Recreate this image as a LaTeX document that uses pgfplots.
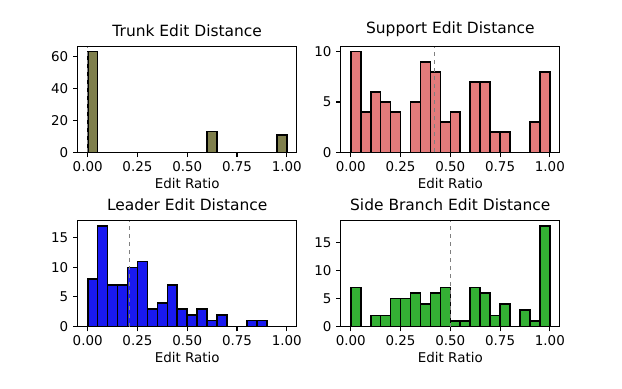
\documentclass[border=0pt]{standalone}
\usepackage{fontspec}
\setmainfont{DejaVu Sans}
\usepackage{pgfplots}
\pgfplotsset{compat=1.18}

\definecolor{trunkc}{HTML}{7F7F4C}
\definecolor{suppc}{HTML}{E37B7B}
\definecolor{leadc}{HTML}{1919F0}
\definecolor{sidec}{HTML}{34B034}

\pgfplotsset{
  histax/.style={
    scale only axis,
    width=2.2528in, height=1.088in,
    anchor=south west,
    xmin=-0.05, xmax=1.05, ymin=0,
    xtick={0,0.25,0.5,0.75,1},
    xticklabels={0.00,0.25,0.50,0.75,1.00},
    xlabel={Edit Ratio},
    tick align=outside, tick pos=lower,
    major tick length=3.5pt,
    every tick/.style={black, line width=0.8pt},
    axis line style={line width=0.8pt},
    tick label style={font=\fontsize{10}{12}\selectfont},
    label style={font=\fontsize{10}{12}\selectfont},
    title style={font=\fontsize{11.5}{14}\selectfont, yshift=-2pt},
    xlabel style={yshift=2pt},
    /pgf/number format/assume math mode=true,
  },
  bars/.style={ybar, bar width=0.05, bar shift=0pt,
    draw=black, line width=1.2pt, fill=#1},
  medline/.style={gray, dashed, line width=0.9pt},
}

\begin{document}
\begin{tikzpicture}
\path (0,0) rectangle (6.4in,4in);

% top left
\begin{axis}[histax, at={(0.8in,2.432in)}, ymax=66.15,
  ytick={0,20,40,60}, title={Trunk Edit Distance}]
\addplot[bars=trunkc] coordinates {(0.025,63) (0.625,13) (0.975,11)};
\addplot[medline] coordinates {(0,0) (0,66.15)};
\end{axis}

% top right
\begin{axis}[histax, at={(3.5072in,2.432in)}, ymax=10.5,
  ytick={0,5,10}, title={Support Edit Distance}]
\addplot[bars=suppc] coordinates {
(0.025,10) (0.075,4) (0.125,6) (0.175,5) (0.225,4) (0.325,5) (0.375,9)
(0.425,8) (0.475,3) (0.525,4) (0.625,7) (0.675,7) (0.725,2) (0.775,2)
(0.925,3) (0.975,8)};
\addplot[medline] coordinates {(0.42,0) (0.42,10.5)};
\end{axis}

% bottom left
\begin{axis}[histax, at={(0.8in,0.64in)}, ymax=17.85,
  ytick={0,5,10,15}, title={Leader Edit Distance}]
\addplot[bars=leadc] coordinates {
(0.025,8) (0.075,17) (0.125,7) (0.175,7) (0.225,10) (0.275,11) (0.325,3)
(0.375,4) (0.425,7) (0.475,3) (0.525,2) (0.575,3) (0.625,1) (0.675,2)
(0.825,1) (0.875,1)};
\addplot[medline] coordinates {(0.21,0) (0.21,17.85)};
\end{axis}

% bottom right
\begin{axis}[histax, at={(3.5072in,0.64in)}, ymax=18.9,
  ytick={0,5,10,15}, title={Side Branch Edit Distance}]
\addplot[bars=sidec] coordinates {
(0.025,7) (0.125,2) (0.175,2) (0.225,5) (0.275,5) (0.325,6) (0.375,4)
(0.425,6) (0.475,7) (0.525,1) (0.575,1) (0.625,7) (0.675,6) (0.725,2)
(0.775,4) (0.875,3) (0.925,1) (0.975,18)};
\addplot[medline] coordinates {(0.5,0) (0.5,18.9)};
\end{axis}
\end{tikzpicture}
\end{document}
